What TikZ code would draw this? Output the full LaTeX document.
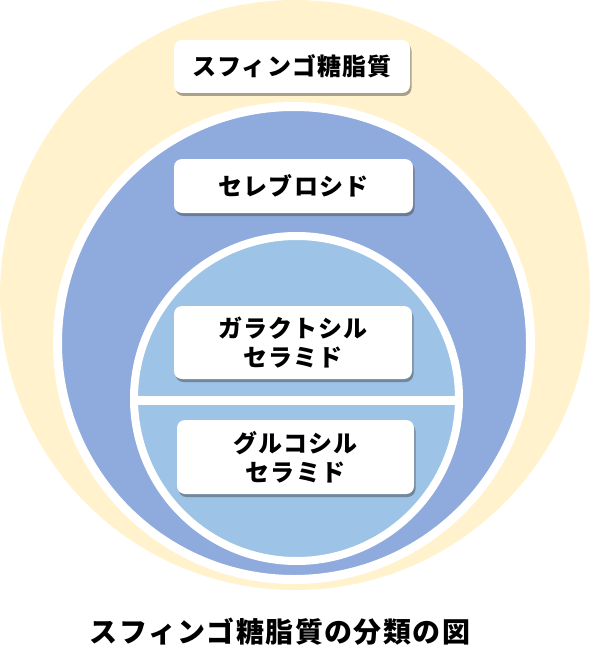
\documentclass[tikz,border=0pt]{standalone}
\usepackage{fontspec}
\usepackage{tikz}
\usetikzlibrary{positioning, shadows}
\newfontfamily\jpfont{Noto Sans CJK JP}[LetterSpace=5]
\definecolor{cream}{HTML}{FFF2CC}
\definecolor{midblue}{HTML}{8FAADC}
\definecolor{lightblue}{HTML}{9DC3E6}
\tikzstyle{ring} = [draw=white]

\begin{document}
\begin{tikzpicture}[
    x=1pt, y=-1pt,
    lbl/.style={fill=white, rounded corners=8pt, inner sep=0pt, align=center,
      font=\jpfont\bfseries\fontsize{24pt}{29pt}\selectfont,
      drop shadow={shadow xshift=1.5pt, shadow yshift=-3pt, opacity=0.45, fill=black!75}}
  ]
  \useasboundingbox (0,0) rectangle (591,666);

  \fill[cream] (295,295) circle[radius=295pt];
  \filldraw[ring, line width=9pt, fill=midblue] (294,343) circle[radius=236.5pt];
  \filldraw[ring, line width=8pt, fill=lightblue] (296.5,398.5) circle[radius=162.5pt];
  \draw[white, line width=9pt] (134,400) -- (459,400);

  \node[lbl, minimum width=236pt, minimum height=53pt] (sgl) at (292,66.5) {スフィンゴ糖脂質};
  \node[lbl, minimum width=239pt, minimum height=54pt] (cer) at (293.5,186) {セレブロシド};
  \node[lbl, minimum width=238pt, minimum height=73pt] (gal) at (293,342.5) {ガラクトシル\\セラミド};
  \node[lbl, minimum width=237pt, minimum height=74pt] (glc) at (295.5,457) {グルコシル\\セラミド};

  \node[font=\jpfont\bfseries\fontsize{28pt}{32pt}\selectfont] (cap) at (280,632) {スフィンゴ糖脂質の分類の図};

\end{tikzpicture}
\end{document}
